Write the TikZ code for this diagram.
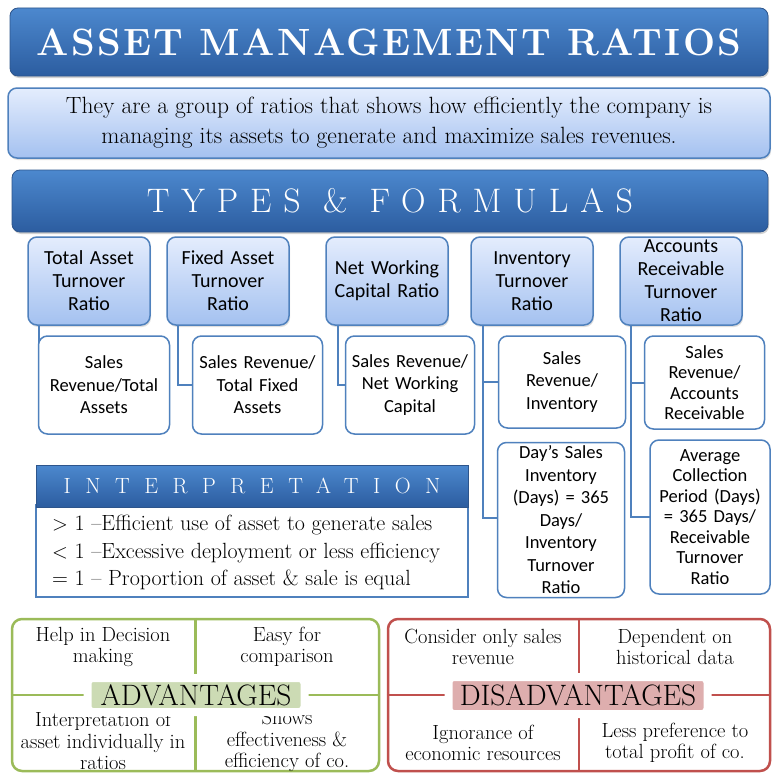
\documentclass[tikz,border=0pt]{standalone}
\usepackage{fontspec}
\usepackage{tikz}
\usetikzlibrary{shadows}
\setmainfont{Latin Modern Roman}
\newfontfamily\amsans{Carlito}
\definecolor{amtop}{RGB}{76,136,206}
\definecolor{ambottom}{RGB}{44,93,160}
\definecolor{amdark}{RGB}{45,85,140}
\definecolor{amedge}{RGB}{79,129,189}
\definecolor{amlighttop}{RGB}{228,237,253}
\definecolor{amlightbot}{RGB}{164,193,240}
\definecolor{amgreen}{RGB}{155,187,89}
\definecolor{amlightgreen}{RGB}{204,219,180}
\definecolor{amred}{RGB}{192,80,77}
\definecolor{amlightred}{RGB}{222,174,174}
\tikzset{
  amtitle/.style={draw=amdark, thick, rounded corners=8pt, top color=amtop, bottom color=ambottom, text=white, align=center,
    drop shadow={shadow xshift=1pt, shadow yshift=-2pt, opacity=.35}},
  amlight/.style={draw=amedge, line width=1.5pt, rounded corners=9pt, top color=amlighttop, bottom color=amlightbot, align=center},
  amtype/.style={amlight, font=\amsans\fontsize{20}{23}\selectfont, inner sep=2pt,
    drop shadow={shadow xshift=1pt, shadow yshift=-2pt, opacity=.25}},
  amformula/.style={draw=amedge, line width=1.5pt, rounded corners=9pt, fill=white, align=center, inner sep=2pt,
    font=\amsans\fontsize{18.5}{22.5}\selectfont},
  amlink/.style={draw=amedge, line width=1.8pt},
  amgreenbox/.style={draw=amgreen, line width=2.5pt, rounded corners=10pt, minimum width=367pt, minimum height=152pt},
  amredbox/.style={draw=amred, line width=2.5pt, rounded corners=10pt, minimum width=382pt, minimum height=152pt},
  amtag/.style={draw=white, line width=8pt, rounded corners=5pt, font=\fontsize{29.5}{31}\selectfont, inner sep=0pt},
  ampoint/.style={align=center, font=\fontsize{20.5}{21.5}\selectfont}
}
\begin{document}
\begin{tikzpicture}[x=1pt, y=-1pt]
  \useasboundingbox[fill=white] (0,0) rectangle (779,784);
  % heading
  \node[amtitle, minimum width=758pt, minimum height=68pt] (title) at (389,42)
    {\fontsize{38}{40}\selectfont\bfseries\addfontfeature{LetterSpace=6}ASSET MANAGEMENT RATIOS};
  \node[amlight, minimum width=762pt, minimum height=70pt, font=\fontsize{23.5}{30}\selectfont,
    drop shadow={shadow xshift=1pt, shadow yshift=-2pt, opacity=.25}] (intro) at (389,123)
    {They are a group of ratios that shows how efficiently the company is\\managing its assets to generate and maximize sales revenues.};
  \node[amtitle, minimum width=756pt, minimum height=62pt] (types) at (390,201)
    {\fontsize{34}{36}\selectfont\addfontfeature{LetterSpace=35}TYPES \& FORMULAS};
  % ratio types
  \node[amtype, minimum width=122pt, minimum height=88pt, text width=118pt] (total) at (89,281) {Total Asset\\Turnover\\Ratio};
  \node[amtype, minimum width=122pt, minimum height=88pt, text width=118pt] (fixed) at (228,281) {Fixed Asset\\Turnover\\Ratio};
  \node[amtype, minimum width=122pt, minimum height=88pt, text width=118pt] (nwc) at (387,281) {Net Working\\Capital Ratio};
  \node[amtype, minimum width=122pt, minimum height=88pt, text width=118pt] (inv) at (532,281) {Inventory\\Turnover\\Ratio};
  \node[amtype, minimum width=122pt, minimum height=88pt, text width=118pt] (recv) at (681,281) {Accounts\\Receivable\\Turnover\\Ratio};
  % links
  \draw[amlink] ([xshift=12pt]total.south west) |- (104,385);
  \draw[amlink] ([xshift=12pt]fixed.south west) |- (193,385) coordinate (fixedin);
  \draw[amlink] ([xshift=13pt]nwc.south west) |- (346,385) coordinate (nwcin);
  \draw[amlink] ([xshift=13pt]inv.south west) |- (560,382) coordinate (invin);
  \draw[amlink] ([xshift=13pt]inv.south west) |- (560,518) coordinate (daysin);
  \draw[amlink] ([xshift=12pt]recv.south west) |- (700,383) coordinate (recvin);
  \draw[amlink] ([xshift=12pt]recv.south west) |- (700,517) coordinate (collin);
  % formulas
  \node[amformula, minimum width=130pt, minimum height=98pt, text width=127pt] (totalf) at (104,385) {Sales\\Revenue/Total\\Assets};
  \node[amformula, minimum width=129pt, minimum height=98pt, text width=126pt] (fixedf) at (257.5,385) {Sales Revenue/\\Total Fixed\\Assets};
  \node[amformula, minimum width=128pt, minimum height=98pt, text width=125pt] (nwcf) at (410,385) {Sales Revenue/\\Net Working\\Capital};
  \node[amformula, minimum width=126pt, minimum height=92pt, text width=123pt] (invf) at (562,382) {Sales\\Revenue/\\Inventory};
  \node[amformula, minimum width=126pt, minimum height=155pt, text width=123pt] (daysf) at (561,520) {Day’s Sales\\Inventory\\(Days) = 365\\Days/\\Inventory\\Turnover\\Ratio};
  \node[amformula, minimum width=119pt, minimum height=93pt, text width=116pt, font=\amsans\fontsize{18.5}{20.5}\selectfont] (recvf) at (704.5,382.5) {Sales\\Revenue/\\Accounts\\Receivable};
  \node[amformula, minimum width=118pt, minimum height=154pt, text width=116pt, font=\amsans\fontsize{18.5}{20.5}\selectfont] (collf) at (710,517) {Average\\Collection\\Period (Days)\\= 365 Days/\\Receivable\\Turnover\\Ratio};
  % interpretation
  \node[draw=amedge, line width=1.5pt, fill=white, minimum width=432pt, minimum height=92pt] (readbody) at (252,551) {};
  \node[draw=amdark, thick, rounded corners=8pt, top color=amtop, bottom color=ambottom, text=white,
    minimum width=432pt, minimum height=42pt, sharp corners=south] (readhead) at (252,486)
    {\fontsize{22}{24}\selectfont\addfontfeature{LetterSpace=66}INTERPRETATION};
  \node[anchor=north west, align=left, inner sep=0pt, font=\fontsize{22}{27.5}\selectfont] (readtext) at (52,515)
    {$>$ 1 –Efficient use of asset to generate sales\\$<$ 1 –Excessive deployment or less efficiency\\= 1 – Proportion of asset \& sale is equal};
  % advantages
  \node[amgreenbox] (adv) at (195.5,695) {};
  \draw[draw=amgreen, line width=2.5pt] (adv.north) -- (adv.south);
  \draw[draw=amgreen, line width=2.5pt] (adv.west) -- (adv.east);
  \node[ampoint] (adv1) at (103,647) {Help in Decision\\making};
  \node[ampoint] (adv2) at (287,647) {Easy for\\comparison};
  \node[ampoint] (adv3) at (103,741) {Interpretation of\\asset individually in\\ratios};
  \node[ampoint] (adv4) at (287,741) {Shows\\effectiveness \&\\efficiency of co.};
  \node[amtag, fill=amlightgreen, minimum width=217pt, minimum height=34pt] (advtag) at (196,695) {ADVANTAGES};
  % disadvantages
  \node[amredbox] (dis) at (579,695) {};
  \draw[draw=amred, line width=2.5pt] (dis.north) -- (dis.south);
  \draw[draw=amred, line width=2.5pt] (dis.west) -- (dis.east);
  \node[ampoint] (dis1) at (483,647) {Consider only sales\\revenue};
  \node[ampoint] (dis2) at (675,647) {Dependent on\\historical data};
  \node[ampoint] (dis3) at (483,743) {Ignorance of\\economic resources};
  \node[ampoint] (dis4) at (675,743) {Less preference to\\total profit of co.};
  \node[amtag, fill=amlightred, minimum width=259pt, minimum height=37pt] (distag) at (578,695.5) {DISADVANTAGES};
\end{tikzpicture}
\end{document}
